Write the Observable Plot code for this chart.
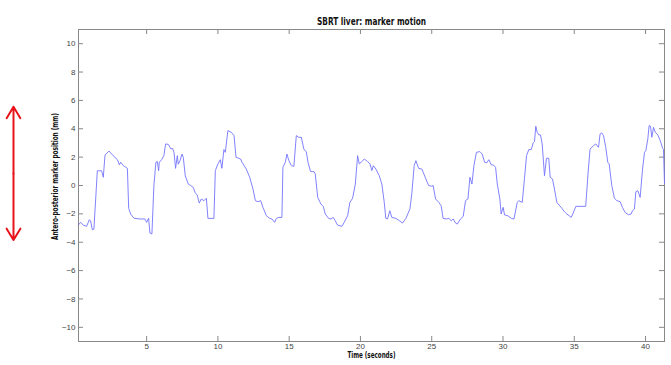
<!DOCTYPE html>
<html>
<head>
<meta charset="utf-8">
<script src="https://cdn.jsdelivr.net/npm/d3@7"></script>
<script src="https://cdn.jsdelivr.net/npm/@observablehq/plot@0.6"></script>
<style>
  html, body { margin: 0; padding: 0; background: #fff; }
</style>
</head>
<body>
<div id="chart"></div>
<script>
const titleText = "SBRT liver: marker motion";
const xLabel = "Time (seconds)";
const yLabel = "Antero-posterior marker position (mm)";

const xTicks = [5, 10, 15, 20, 25, 30, 35, 40];
const yTicks = [-10, -8, -6, -4, -2, 0, 2, 4, 6, 8, 10];

// time (s) and marker position (mm)
const time = [
  0.21,0.37,0.56,0.79,0.98,1.07,1.19,1.30,1.44,1.54,1.84,1.96,2.08,2.36,2.66,2.95,3.09,3.18,3.37,3.65,
  3.74,3.88,4.11,4.53,4.88,5.00,5.14,5.23,5.37,5.51,5.65,5.75,5.84,5.89,6.05,6.21,6.33,6.52,6.70,6.82,
  6.92,7.03,7.15,7.22,7.34,7.48,7.57,7.71,7.92,8.09,8.27,8.40,8.55,8.69,8.84,9.02,9.19,9.30,9.72,9.82,
  10.00,10.17,10.28,10.42,10.52,10.70,10.94,11.13,11.27,11.45,11.59,11.69,11.99,12.23,12.46,12.63,12.81,13.00,13.16,13.40,
  13.63,13.79,13.98,14.10,14.26,14.49,14.56,14.73,14.84,14.98,15.15,15.33,15.50,15.66,15.85,16.04,16.20,16.32,16.50,16.74,
  16.83,17.00,17.23,17.39,17.53,17.77,17.93,18.09,18.23,18.39,18.70,18.86,19.10,19.26,19.45,19.64,19.80,19.92,20.10,20.27,
  20.50,20.67,20.80,20.90,21.08,21.32,21.50,21.67,21.78,21.90,22.06,22.20,22.49,22.72,22.95,23.19,23.47,23.61,23.77,23.89,
  24.08,24.31,24.59,24.78,25.00,25.10,25.27,25.50,25.66,25.80,26.04,26.20,26.37,26.51,26.67,26.79,27.02,27.21,27.37,27.54,
  27.68,27.82,27.96,28.14,28.38,28.54,28.71,28.85,29.01,29.18,29.32,29.48,29.60,29.78,29.87,30.01,30.11,30.34,30.58,30.77,
  31.00,31.11,31.35,31.51,31.65,31.81,31.98,32.12,32.21,32.30,32.40,32.51,32.63,32.75,32.91,33.05,33.21,33.31,33.47,33.61,
  33.78,33.94,34.13,34.31,34.48,34.64,34.78,34.87,35.11,35.80,35.99,36.11,36.35,36.51,36.70,36.81,36.93,37.05,37.21,37.35,
  37.45,37.63,37.82,37.98,38.22,38.38,38.57,38.80,38.99,39.08,39.22,39.32,39.46,39.62,39.79,39.93,40.02,40.16,40.25,40.35,
  40.44,40.56,40.68,40.86,41.03,41.20,41.26,41.33
];
const position = [
  -2.79,-2.60,-2.79,-2.88,-2.41,-2.50,-3.12,-3.08,-0.72,1.04,1.04,0.58,2.15,2.43,2.10,1.82,1.45,1.64,1.40,1.21,
  -1.61,-2.01,-2.31,-2.36,-2.36,-2.60,-2.31,-3.35,-3.42,0.00,1.64,1.69,1.04,1.64,1.82,2.10,2.93,2.90,2.58,2.62,
  2.34,1.21,2.10,1.50,1.75,2.22,1.99,0.69,0.10,0.00,-0.13,-0.50,-0.68,-1.24,-0.95,-1.07,-0.90,-2.32,-2.32,1.05,
  1.52,1.82,1.21,2.53,2.34,3.87,3.75,3.52,1.99,1.92,1.87,1.64,1.16,0.58,-0.25,-1.07,-1.14,-1.07,-1.54,-2.13,
  -2.32,-2.36,-2.60,-2.32,-2.25,-2.25,1.28,1.64,2.22,1.75,1.40,1.35,3.52,3.40,3.40,2.53,2.39,1.64,0.98,0.98,
  0.81,-0.84,-1.31,-1.47,-2.01,-2.32,-2.36,-2.25,-2.48,-2.79,-2.88,-2.60,-2.13,-1.19,-0.90,0.10,2.10,1.52,1.69,1.87,
  1.69,1.52,1.05,1.40,1.16,0.69,0.10,-1.19,-2.32,-2.36,-1.78,-2.25,-2.32,-2.48,-2.65,-2.32,-1.66,-0.49,1.40,1.75,
  1.21,1.16,0.46,0.00,-0.05,0.00,-0.95,-1.19,-1.43,-2.32,-2.36,-2.32,-2.48,-2.36,-2.65,-2.72,-2.36,-2.18,-1.07,-0.95,
  0.58,0.10,1.40,2.34,2.39,2.22,1.64,1.59,1.82,1.45,1.45,1.28,0.10,-0.95,-2.01,-1.54,-2.08,-2.13,-2.32,-2.36,
  -1.19,-1.07,-1.19,0.51,2.10,2.53,2.53,3.00,3.10,4.18,3.75,3.57,3.57,2.93,0.69,1.92,1.92,0.58,0.46,-0.25,
  -1.19,-1.38,-1.61,-1.85,-2.01,-2.13,-2.25,-2.08,-1.47,-1.47,1.16,2.57,2.81,2.93,2.69,3.63,3.71,3.52,2.69,1.64,
  1.52,0.00,-0.90,-1.07,-1.14,-1.54,-1.90,-2.06,-2.01,-1.78,-1.66,-0.44,-0.37,-0.84,1.16,2.34,2.46,3.28,4.22,4.18,
  3.40,4.10,3.75,3.57,3.16,2.62,2.53,0.13
];

// red double-headed annotation arrow (data units)
const arrowX = [-4.34];
const arrowRange = [-3.85, 5.55];

const W = 671, H = 365;
const mL = 78, mR = 7, mT = 29, mB = 24;
const frameW = W - mL - mR, frameH = H - mT - mB;
const tickLen = 5;

const data = time.map((t, i) => ({t, v: position[i]}));
const arrowMid = (arrowRange[0] + arrowRange[1]) / 2;
const arrows = [
  {x: arrowX[0], y1: arrowMid, y2: arrowRange[1]},
  {x: arrowX[0], y1: arrowMid, y2: arrowRange[0]}
];

const narrow = "'Liberation Sans Narrow', 'DejaVu Sans Condensed', 'Liberation Sans', sans-serif";

const chart = Plot.plot({
  width: W,
  height: H,
  marginLeft: mL,
  marginRight: mR,
  marginTop: mT,
  marginBottom: mB,
  style: {fontFamily: "'Liberation Sans', Arial, sans-serif", fontSize: "8px", color: "#444", background: "#fff"},
  x: {domain: [0.22, 41.33], ticks: xTicks, tickSize: 0, tickPadding: 2, label: null},
  y: {domain: [-11, 11], ticks: yTicks, tickSize: 0, tickPadding: 3, label: null},
  marks: [
    Plot.tickY(yTicks, {y: d => d, insetRight: frameW - tickLen, stroke: "#888", strokeWidth: 1}),
    Plot.tickY(yTicks, {y: d => d, insetLeft: frameW - tickLen, stroke: "#888", strokeWidth: 1}),
    Plot.tickX(xTicks, {x: d => d, insetTop: frameH - tickLen, stroke: "#888", strokeWidth: 1}),
    Plot.tickX(xTicks, {x: d => d, insetBottom: frameH - tickLen, stroke: "#888", strokeWidth: 1}),
    Plot.frame({stroke: "#888", strokeWidth: 1}),
    Plot.line(data, {x: "t", y: "v", stroke: "#7474ff", strokeWidth: 0.9}),
    Plot.arrow(arrows, {x1: "x", x2: "x", y1: "y1", y2: "y2", stroke: "#e8141b", strokeWidth: 2, headLength: 10, headAngle: 62}),
    Plot.text([titleText], {frameAnchor: "top", dy: -11.5, textAnchor: "middle", fontFamily: narrow, fontWeight: "bold", fontSize: 10, fill: "#111"}),
    Plot.text([xLabel], {frameAnchor: "bottom", dy: 16, textAnchor: "middle", fontFamily: narrow, fontWeight: "bold", fontSize: 8, fill: "#111"}),
    Plot.text([yLabel], {frameAnchor: "left", rotate: -90, dx: -23, dy: -9, textAnchor: "middle", fontFamily: narrow, fontWeight: "bold", fontSize: 8.5, fill: "#111"})
  ]
});

// compress the bold labels to the narrow widths of the reference
const lengths = new Map([[titleText, 109], [xLabel, 48], [yLabel, 127]]);
d3.select(chart).selectAll("text").each(function() {
  const L = lengths.get(this.textContent);
  if (L) {
    this.setAttribute("textLength", L);
    this.setAttribute("lengthAdjust", "spacingAndGlyphs");
  }
});

document.getElementById("chart").appendChild(chart);
</script>
</body>
</html>
